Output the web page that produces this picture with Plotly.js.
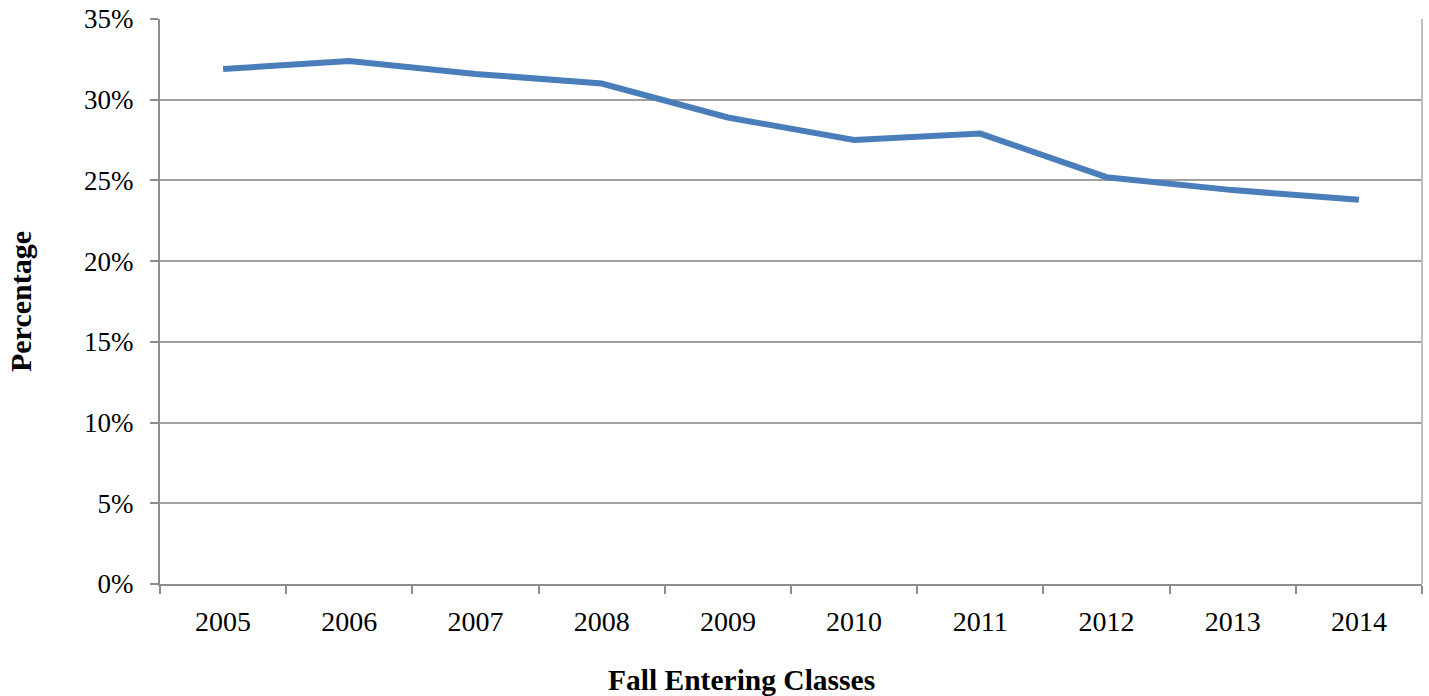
<!DOCTYPE html>
<html>
<head>
<meta charset="utf-8">
<script src="https://cdn.plot.ly/plotly-3.0.1.min.js"></script>
<style>html,body{margin:0;padding:0;background:#fff;}#chart{width:1429px;height:696px;}</style>
</head>
<body>
<div id="chart"></div>
<script>
const years = ["2005","2006","2007","2008","2009","2010","2011","2012","2013","2014"];
const percentages = [0.319, 0.324, 0.316, 0.310, 0.289, 0.275, 0.279, 0.252, 0.244, 0.238];
const yTickVals = [0, 0.05, 0.10, 0.15, 0.20, 0.25, 0.30, 0.35];
const yTickText = ["0%","5%","10%","15%","20%","25%","30%","35%"];
const xTitle = "Fall Entering Classes";
const yTitle = "Percentage";

const font = "Liberation Serif, Times New Roman, serif";

Plotly.newPlot("chart", [{
  x: years,
  y: percentages,
  type: "scatter",
  mode: "lines",
  line: {color: "#4a7ebb", width: 6},
  hoverinfo: "x+y"
}], {
  width: 1429,
  height: 696,
  margin: {l: 160, r: 7, t: 19, b: 112},
  paper_bgcolor: "#ffffff",
  plot_bgcolor: "#ffffff",
  showlegend: false,
  font: {family: font, size: 27, color: "#000"},
  xaxis: {
    type: "category",
    range: [-0.5, 9.5],
    tickson: "boundaries",
    ticks: "outside",
    ticklen: 8,
    tickwidth: 2,
    tickcolor: "#8c8c8c",
    showline: true,
    linecolor: "#8c8c8c",
    linewidth: 2,
    showgrid: false,
    zeroline: false,
    ticklabelstandoff: 11,
    tickfont: {family: font, size: 28, color: "#000"}
  },
  yaxis: {
    range: [0, 0.35],
    tickvals: yTickVals,
    ticktext: yTickText,
    ticks: "outside",
    ticklen: 8,
    tickwidth: 2,
    tickcolor: "#8c8c8c",
    showline: true,
    linecolor: "#8c8c8c",
    linewidth: 2,
    showgrid: true,
    gridcolor: "#a0a0a0",
    gridwidth: 2,
    zeroline: false,
    ticklabelstandoff: 11,
    tickfont: {family: font, size: 27, color: "#000"},
    title: {text: "<b>" + yTitle + "</b>", font: {family: font, size: 30, color: "#000"}, standoff: 44}
  },
  annotations: [{
    text: "<b>" + xTitle + "</b>",
    xref: "paper", yref: "paper",
    x: 0.4604, y: -0.170,
    xanchor: "center", yanchor: "middle",
    showarrow: false,
    font: {family: font, size: 29.5, color: "#000"}
  }],
  shapes: [{
    type: "line", xref: "paper", yref: "paper",
    x0: 1, x1: 1, y0: 0, y1: 1,
    line: {color: "#c0c0c0", width: 2}
  }]
}, {displayModeBar: false});
</script>
</body>
</html>
